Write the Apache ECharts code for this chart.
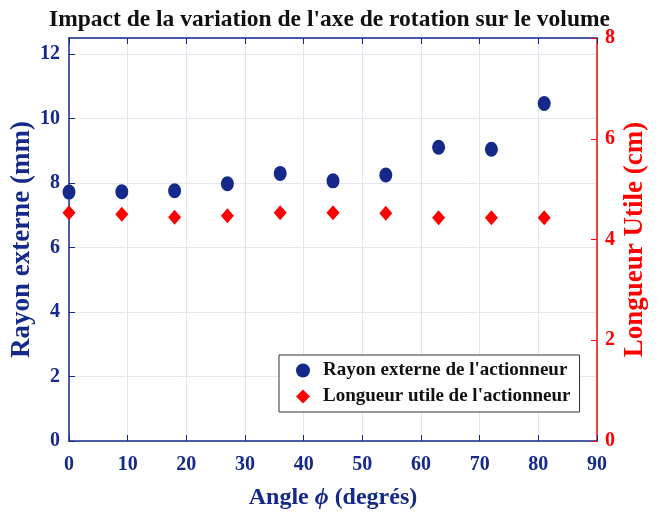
<!DOCTYPE html>
<html>
<head>
<meta charset="utf-8">
<script src="https://cdn.jsdelivr.net/npm/echarts@6/dist/echarts.min.js"></script>
<style>
  html, body { margin: 0; padding: 0; background: #fff; }
  #chart { width: 659px; height: 513px; }
</style>
</head>
<body>
<div id="chart"></div>
<script>
// angles (degrés)
var angles = [0, 9, 18, 27, 36, 45, 54, 63, 72, 81]
// rayon externe (mm), axe gauche
var rayon = [7.72, 7.73, 7.76, 7.98, 8.30, 8.07, 8.25, 9.11, 9.05, 10.47]
// longueur utile (cm), axe droit
var longueur = [4.53, 4.50, 4.44, 4.47, 4.53, 4.53, 4.52, 4.43, 4.43, 4.43]

var blue = '#14298a'
var red = '#ff0000'
var serif = 'Liberation Serif'

var chart = echarts.init(document.getElementById('chart'))

var toPairs = function (xs, ys) {
    return xs.map(function (x, i) { return [x, ys[i]] })
}

chart.setOption({
    animation: false,
    backgroundColor: '#fff',
    title: {
        text: "Impact de la variation de l'axe de rotation sur le volume",
        left: 'center',
        top: 3,
        textStyle: { fontFamily: serif, fontWeight: 'bold', fontSize: 23.5, color: '#111' }
    },
    grid: { left: 69, right: 62, top: 38, bottom: 72, containLabel: false, outerBoundsMode: 'none' },
    legend: {
        left: 279,
        top: 355,
        width: 300,
        orient: 'vertical',
        backgroundColor: '#fff',
        borderColor: '#333',
        borderWidth: 1,
        padding: [6, 9, 6, 17],
        itemGap: 7,
        itemWidth: 14,
        itemHeight: 14,
        textStyle: { fontFamily: serif, fontWeight: 'bold', fontSize: 19, color: '#111', padding: [0, 0, 0, 8] },
        data: ["Rayon externe de l'actionneur", "Longueur utile de l'actionneur"]
    },
    xAxis: [{
        type: 'value',
        min: 0, max: 90, interval: 10,
        position: 'bottom',
        name: '{a|Angle }{i|ϕ}{a| (degrés)}',
        nameLocation: 'middle',
        nameGap: 45,
        nameTextStyle: {
            rich: {
                a: { fontFamily: serif, fontWeight: 'bold', fontSize: 24, color: blue },
                i: { fontFamily: serif, fontStyle: 'italic', fontWeight: 'bold', fontSize: 24, color: blue }
            }
        },
        axisLine: { onZero: false, lineStyle: { color: blue, width: 1.5 } },
        axisTick: { inside: true, length: 6, lineStyle: { color: blue } },
        axisLabel: { fontFamily: serif, fontWeight: 'bold', fontSize: 20, color: blue, margin: 14 },
        splitLine: { show: true, lineStyle: { color: '#e3e5ef' } }
    }, {
        type: 'value',
        min: 0, max: 90, interval: 10,
        position: 'top',
        axisLine: { onZero: false, lineStyle: { color: blue, width: 1.5 } },
        axisTick: { inside: true, length: 6, lineStyle: { color: blue } },
        axisLabel: { show: false },
        splitLine: { show: false }
    }],
    yAxis: [{
        type: 'value',
        min: 0, max: 12.5, interval: 2,
        position: 'left',
        name: 'Rayon externe (mm)',
        nameLocation: 'middle',
        nameGap: 33,
        nameMoveOverlap: false,
        nameRotate: 90,
        nameTextStyle: { fontFamily: serif, fontWeight: 'bold', fontSize: 27, color: blue },
        axisLine: { show: true, onZero: false, lineStyle: { color: blue, width: 1.5 } },
        axisTick: { show: true, inside: true, length: 6, lineStyle: { color: blue } },
        axisLabel: { fontFamily: serif, fontWeight: 'bold', fontSize: 20, color: blue, margin: 9, showMaxLabel: false },
        splitLine: { show: true, lineStyle: { color: '#e3e5ef' } }
    }, {
        type: 'value',
        min: 0, max: 8, interval: 2,
        position: 'right',
        name: 'Longueur Utile (cm)',
        nameLocation: 'middle',
        nameGap: 25,
        nameMoveOverlap: false,
        nameRotate: 90,
        nameTextStyle: { fontFamily: serif, fontWeight: 'bold', fontSize: 27, color: red },
        axisLine: { show: true, onZero: false, lineStyle: { color: red, width: 1.5 } },
        axisTick: { show: true, inside: true, length: 6, lineStyle: { color: red } },
        axisLabel: { fontFamily: serif, fontWeight: 'bold', fontSize: 20, color: red, margin: 8 },
        splitLine: { show: false }
    }],
    series: [{
        name: "Rayon externe de l'actionneur",
        type: 'scatter',
        yAxisIndex: 0,
        symbol: 'circle',
        symbolSize: [13, 15],
        itemStyle: { color: blue, opacity: 1 },
        data: toPairs(angles, rayon),
        z: 3
    }, {
        name: "Longueur utile de l'actionneur",
        type: 'scatter',
        yAxisIndex: 1,
        symbol: 'diamond',
        symbolSize: [13, 15],
        itemStyle: { color: red, opacity: 1 },
        data: toPairs(angles, longueur),
        z: 3
    }]
})
</script>
</body>
</html>
